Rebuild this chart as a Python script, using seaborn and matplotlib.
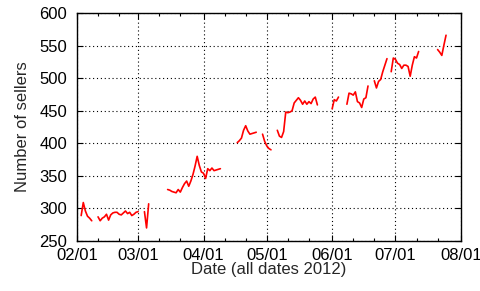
import numpy as np
import pandas as pd
import matplotlib
matplotlib.use("Agg")
import matplotlib.pyplot as plt
import matplotlib.dates as mdates
import seaborn as sns

# ---- data: segments of daily counts (start date, values) ----
seg_starts = ["2012-02-03", "2012-02-11", "2012-03-04", "2012-03-15",
              "2012-04-17", "2012-04-29", "2012-05-06", "2012-06-01",
              "2012-06-08", "2012-06-21", "2012-06-29", "2012-07-21"]
seg1 = [289, 309, 296, 288, 285, 281]
seg2 = [287, 281, 285, 287, 291, 282, 290, 293, 294, 294, 291, 290, 293, 296,
        292, 294, 289, 291, 294, 295]
seg3 = [295, 270, 307]
seg4 = [329, 328, 326, 325, 324, 329, 325, 332, 338, 342, 334, 342, 352, 365,
        380, 366, 356, 354, 346, 361, 358, 362, 358, 359, 360, 361]
seg5 = [401, 404, 408, 420, 427, 419, 414, 415, 416, 417]
seg6 = [414, 403, 396, 392, 390]
seg7 = [420, 411, 409, 418, 448, 447, 448, 450, 462, 466, 470, 466, 460, 465,
        460, 464, 461, 468, 471, 459]
seg8 = [453, 467, 465, 471]
seg9 = [460, 477, 476, 474, 479, 464, 462, 455, 468, 470, 488]
seg10 = [496, 485, 495, 498, 510, 520, 530]
seg11 = [510, 531, 529, 523, 521, 515, 520, 520, 518, 503, 520, 533, 531, 541]
seg12 = [544, 540, 535, 551, 566]
segments = [seg1, seg2, seg3, seg4, seg5, seg6, seg7, seg8, seg9, seg10,
            seg11, seg12]

x_ticks = ["2012-02-01", "2012-03-01", "2012-04-01", "2012-05-01",
           "2012-06-01", "2012-07-01", "2012-08-01"]
y_ticks = [250, 300, 350, 400, 450, 500, 550, 600]

frames = []
for i, (start, vals) in enumerate(zip(seg_starts, segments)):
    frames.append(pd.DataFrame({
        "date": pd.date_range(start, periods=len(vals), freq="D"),
        "sellers": vals,
        "seg": i,
    }))
df = pd.concat(frames, ignore_index=True)

sns.set_style("white")
plt.rcParams["font.family"] = ["Liberation Sans", "DejaVu Sans"]

fig = plt.figure(figsize=(4.81, 2.91), dpi=100)
ax = fig.add_axes([0.160, 0.172, 0.798, 0.783])

sns.lineplot(data=df, x="date", y="sellers", units="seg", estimator=None,
             color="red", linewidth=1.2, ax=ax, legend=False)

ax.set_xlim(pd.Timestamp(x_ticks[0]), pd.Timestamp(x_ticks[-1]))
ax.set_ylim(y_ticks[0], y_ticks[-1])
ax.set_xticks([pd.Timestamp(t) for t in x_ticks])
ax.xaxis.set_major_formatter(mdates.DateFormatter("%m/%d"))
ax.xaxis.set_minor_locator(mdates.DayLocator(bymonthday=[11, 21]))
ax.set_yticks(y_ticks)

ax.grid(True, which="major", color="black", linestyle=(0, (1, 2.5)),
        linewidth=0.8)
for s in ax.spines.values():
    s.set_color("black")
    s.set_linewidth(1.0)
ax.tick_params(which="both", direction="in", top=True, right=True,
               bottom=True, left=True, colors="black", labelsize=12)
ax.tick_params(axis="y", which="major", length=4.5, width=0.8, pad=7)
ax.tick_params(axis="x", which="major", length=4.5, width=0.8, pad=5)
ax.tick_params(which="minor", length=2.2, width=0.8)

ax.set_xlabel("Date (all dates 2012)", fontsize=12, labelpad=-1)
ax.set_ylabel("Number of sellers", fontsize=12, labelpad=7)

fig.savefig("out.png", dpi=100, facecolor="white")
